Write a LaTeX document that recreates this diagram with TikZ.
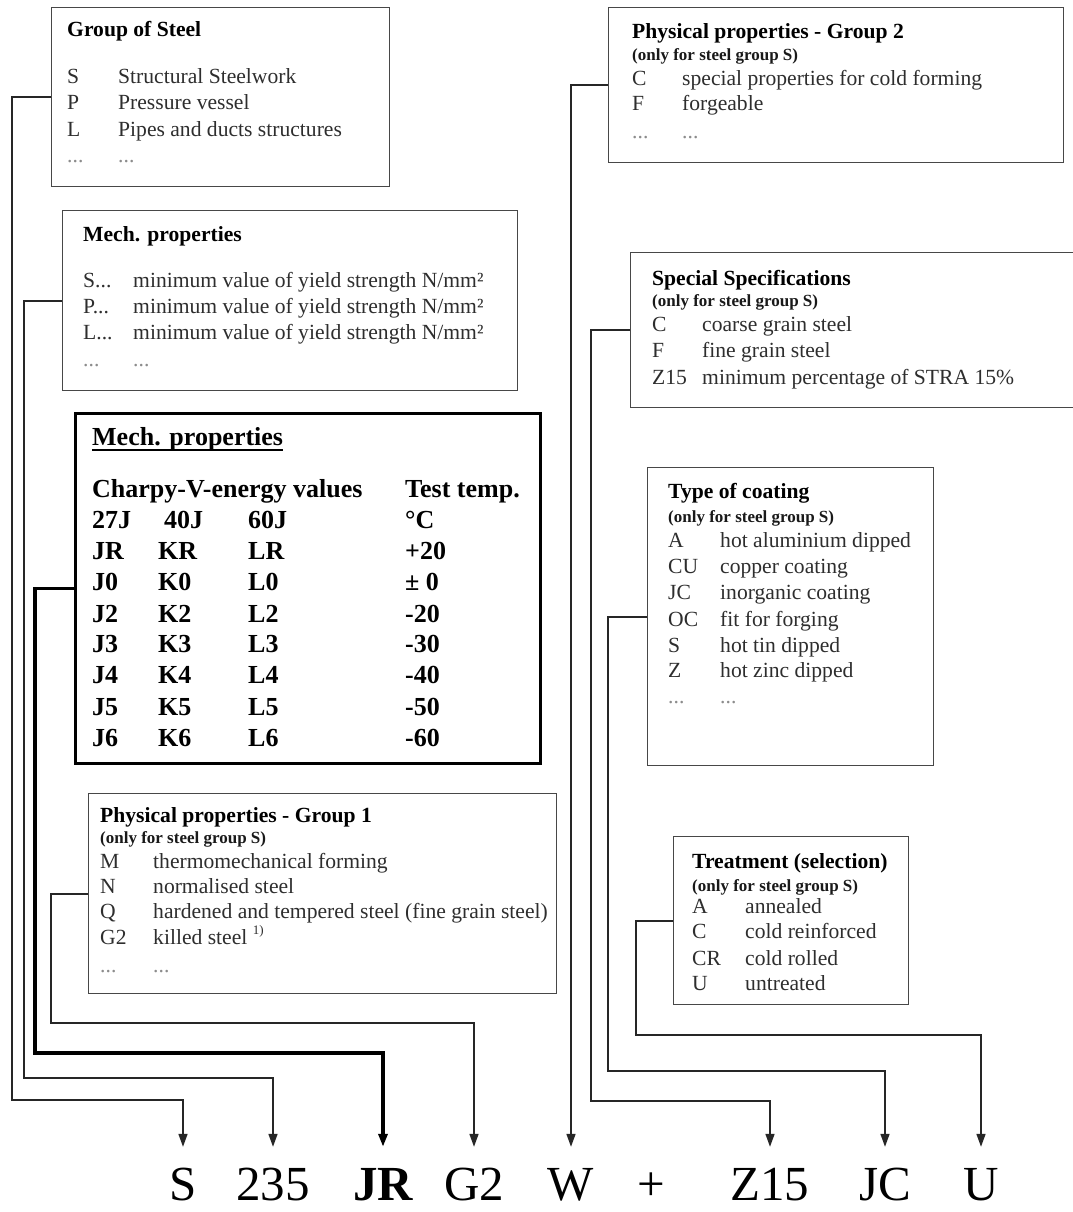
\documentclass[tikz,border=0pt]{standalone}
\usepackage{fontspec}
\setmainfont{Liberation Serif}
\usetikzlibrary{arrows.meta}
\begin{document}
\begin{tikzpicture}[x=1pt,y=-1pt,
  box/.style={draw=black!72,line width=1.4pt,fill=white,anchor=north west,inner sep=0pt},
  thickbox/.style={box,draw=black,line width=3pt},
  tb/.style={anchor=base west,inner sep=0pt,font=\fontsize{21.6}{26}\selectfont\bfseries,text=black},
  sub/.style={anchor=base west,inner sep=0pt,font=\fontsize{17}{20}\selectfont\bfseries,text=black!90},
  lb/.style={anchor=base west,inner sep=0pt,font=\fontsize{21.6}{26}\selectfont,text=black!82},
  dt/.style={lb,text=black!45},
  big/.style={anchor=base west,inner sep=0pt,font=\fontsize{26}{30}\selectfont\bfseries,text=black},
  code/.style={anchor=base,inner sep=0pt,text height=53pt,text depth=0pt,font=\fontsize{49}{54}\selectfont,text=black},
  conn/.style={draw=black!85,line width=1.6pt,-{Triangle[length=13pt,width=9pt]}},
]
\useasboundingbox (0,0) rectangle (1072,1212);
\fill[white] (0,0) rectangle (1072,1212);

% ---------- boxes ----------
\node[box,minimum width=338pt,minimum height=179pt] (b1) at (51,7) {};
\node[box,minimum width=455pt,minimum height=180pt] (b2) at (62,210) {};
\node[thickbox,minimum width=465pt,minimum height=350pt] (b3) at (74,412) {};
\node[box,minimum width=468pt,minimum height=200pt] (b4) at (88,793) {};
\node[box,minimum width=455pt,minimum height=155pt] (b5) at (608,7) {};
\node[box,minimum width=444pt,minimum height=155pt] (b6) at (630,252) {};
\node[box,minimum width=286pt,minimum height=298pt] (b7) at (647,467) {};
\node[box,minimum width=235pt,minimum height=168pt] (b8) at (673,836) {};

% ---------- box 1 ----------
\node[tb] (t1) at (67,37) {Group of Steel};
\node[lb] (t1a) at (67,84) {S};   \node[lb] (t1b) at (118,84) {Structural Steelwork};
\node[lb] (t1c) at (67,110) {P};  \node[lb] (t1d) at (118,110) {Pressure vessel};
\node[lb] (t1e) at (67,136) {L};  \node[lb] (t1f) at (118,136) {Pipes and ducts structures};
\node[dt] (t1g) at (67,162) {...};\node[dt] (t1h) at (118,162) {...};

% ---------- box 2 ----------
\node[tb] (t2) at (83,241) {Mech. properties};
\node[lb] (t2a) at (83,287) {S...}; \node[lb] (t2b) at (133,287) {minimum value of yield strength N/mm²};
\node[lb] (t2c) at (83,313) {P...}; \node[lb] (t2d) at (133,313) {minimum value of yield strength N/mm²};
\node[lb] (t2e) at (83,339) {L...}; \node[lb] (t2f) at (133,339) {minimum value of yield strength N/mm²};
\node[dt] (t2g) at (83,366) {...};  \node[dt] (t2h) at (133,366) {...};

% ---------- box 3 ----------
\node[big] (t3) at (92,445) {Mech. properties};
\draw[line width=1.6pt] ([yshift=-5pt]t3.base west) -- ([yshift=-5pt]t3.base east);
\node[big] (t3h1) at (92,497) {Charpy-V-energy values};
\node[big] (t3h2) at (405,497) {Test temp.};
\foreach \y/\a/\b/\c/\d [count=\i] in {
  528/27J/40J/60J/°C,
  559/JR/KR/LR/+20,
  590/J0/K0/L0/± 0,
  622/J2/K2/L2/-20,
  652/J3/K3/L3/-30,
  683/J4/K4/L4/-40,
  715/J5/K5/L5/-50,
  746/J6/K6/L6/-60}{
  \ifnum\i=1 \def\kx{164}\else\def\kx{158}\fi
  \node[big] (r\i a) at (92,\y) {\a};
  \node[big] (r\i b) at (\kx,\y) {\b};
  \node[big] (r\i c) at (248,\y) {\c};
  \node[big] (r\i d) at (405,\y) {\d};
}

% ---------- box 4 ----------
\node[tb] (t4) at (100,822) {Physical properties - Group 1};
\node[sub] (t4s) at (100,843) {(only for steel group S)};
\node[lb] (t4a) at (100,868) {M};  \node[lb] (t4b) at (153,868) {thermomechanical forming};
\node[lb] (t4c) at (100,893) {N};  \node[lb] (t4d) at (153,893) {normalised steel};
\node[lb] (t4e) at (100,918) {Q};  \node[lb] (t4f) at (153,918) {hardened and tempered steel (fine grain steel)};
\node[lb] (t4g) at (100,944) {G2}; \node[lb] (t4h) at (153,944) {killed steel \raisebox{0.42em}{\fontsize{13}{13}\selectfont 1)}};
\node[dt] (t4i) at (100,972) {...}; \node[dt] (t4j) at (153,972) {...};

% ---------- box 5 ----------
\node[tb] (t5) at (632,39) {Physical properties - Group 2};
\node[sub] (t5s) at (632,61) {(only for steel group S)};
\node[lb] (t5a) at (632,86) {C};  \node[lb] (t5b) at (682,86) {special properties for cold forming};
\node[lb] (t5c) at (632,111) {F}; \node[lb] (t5d) at (682,111) {forgeable};
\node[dt] (t5e) at (632,139) {...}; \node[dt] (t5f) at (682,139) {...};

% ---------- box 6 ----------
\node[tb] (t6) at (652,285) {Special Specifications};
\node[sub] (t6s) at (652,306) {(only for steel group S)};
\node[lb] (t6a) at (652,331) {C};   \node[lb] (t6b) at (702,331) {coarse grain steel};
\node[lb] (t6c) at (652,357) {F};   \node[lb] (t6d) at (702,357) {fine grain steel};
\node[lb] (t6e) at (652,384) {Z15}; \node[lb] (t6f) at (702,384) {minimum percentage of STRA 15\%};

% ---------- box 7 ----------
\node[tb] (t7) at (668,498) {Type of coating};
\node[sub] (t7s) at (668,522) {(only for steel group S)};
\node[lb] (t7a) at (668,547) {A};  \node[lb] (t7b) at (720,547) {hot aluminium dipped};
\node[lb] (t7c) at (668,573) {CU}; \node[lb] (t7d) at (720,573) {copper coating};
\node[lb] (t7e) at (668,599) {JC}; \node[lb] (t7f) at (720,599) {inorganic coating};
\node[lb] (t7g) at (668,626) {OC}; \node[lb] (t7h) at (720,626) {fit for forging};
\node[lb] (t7i) at (668,652) {S};  \node[lb] (t7j) at (720,652) {hot tin dipped};
\node[lb] (t7k) at (668,677) {Z};  \node[lb] (t7l) at (720,677) {hot zinc dipped};
\node[dt] (t7m) at (668,703) {...}; \node[dt] (t7n) at (720,703) {...};

% ---------- box 8 ----------
\node[tb] (t8) at (692,868) {Treatment (selection)};
\node[sub] (t8s) at (692,891) {(only for steel group S)};
\node[lb] (t8a) at (692,913) {A};  \node[lb] (t8b) at (745,913) {annealed};
\node[lb] (t8c) at (692,938) {C};  \node[lb] (t8d) at (745,938) {cold reinforced};
\node[lb] (t8e) at (692,965) {CR}; \node[lb] (t8f) at (745,965) {cold rolled};
\node[lb] (t8g) at (692,990) {U};  \node[lb] (t8h) at (745,990) {untreated};

% ---------- designation ----------
\node[code] (cS)   at (183,1200) {S};
\node[code] (c235) at (273,1200) {235};
\node[code,font=\fontsize{49}{54}\selectfont\bfseries] (cJR) at (383,1200) {JR};
\node[code] (cG2)  at (474,1200) {G2};
\node[code] (cW)   at (571,1200) {W};
\node[code] (cP)   at (651,1200) {+};
\node[code] (cZ)   at (770,1200) {Z15};
\node[code] (cJC)  at (885,1200) {JC};
\node[code] (cU)   at (981,1200) {U};

% ---------- connectors ----------
\draw[conn] (b1.west) -| (12,1100) -| (cS.north);
\draw[conn] (b2.west) -| (24,1078) -| (c235.north);
\draw[conn,draw=black,line width=3.5pt] (b3.west) -| (35,1053) -| (cJR.north);
\draw[conn] (b4.west) -| (51,1023) -| (cG2.north);
\draw[conn] (b5.west) -| (cW.north);
\draw[conn] (b6.west) -| (591,1101) -| (cZ.north);
\draw[conn] (b7.west) -| (608,1071) -| (cJC.north);
\draw[conn] (b8.west) -| (636,1035) -| (cU.north);
\end{tikzpicture}
\end{document}
